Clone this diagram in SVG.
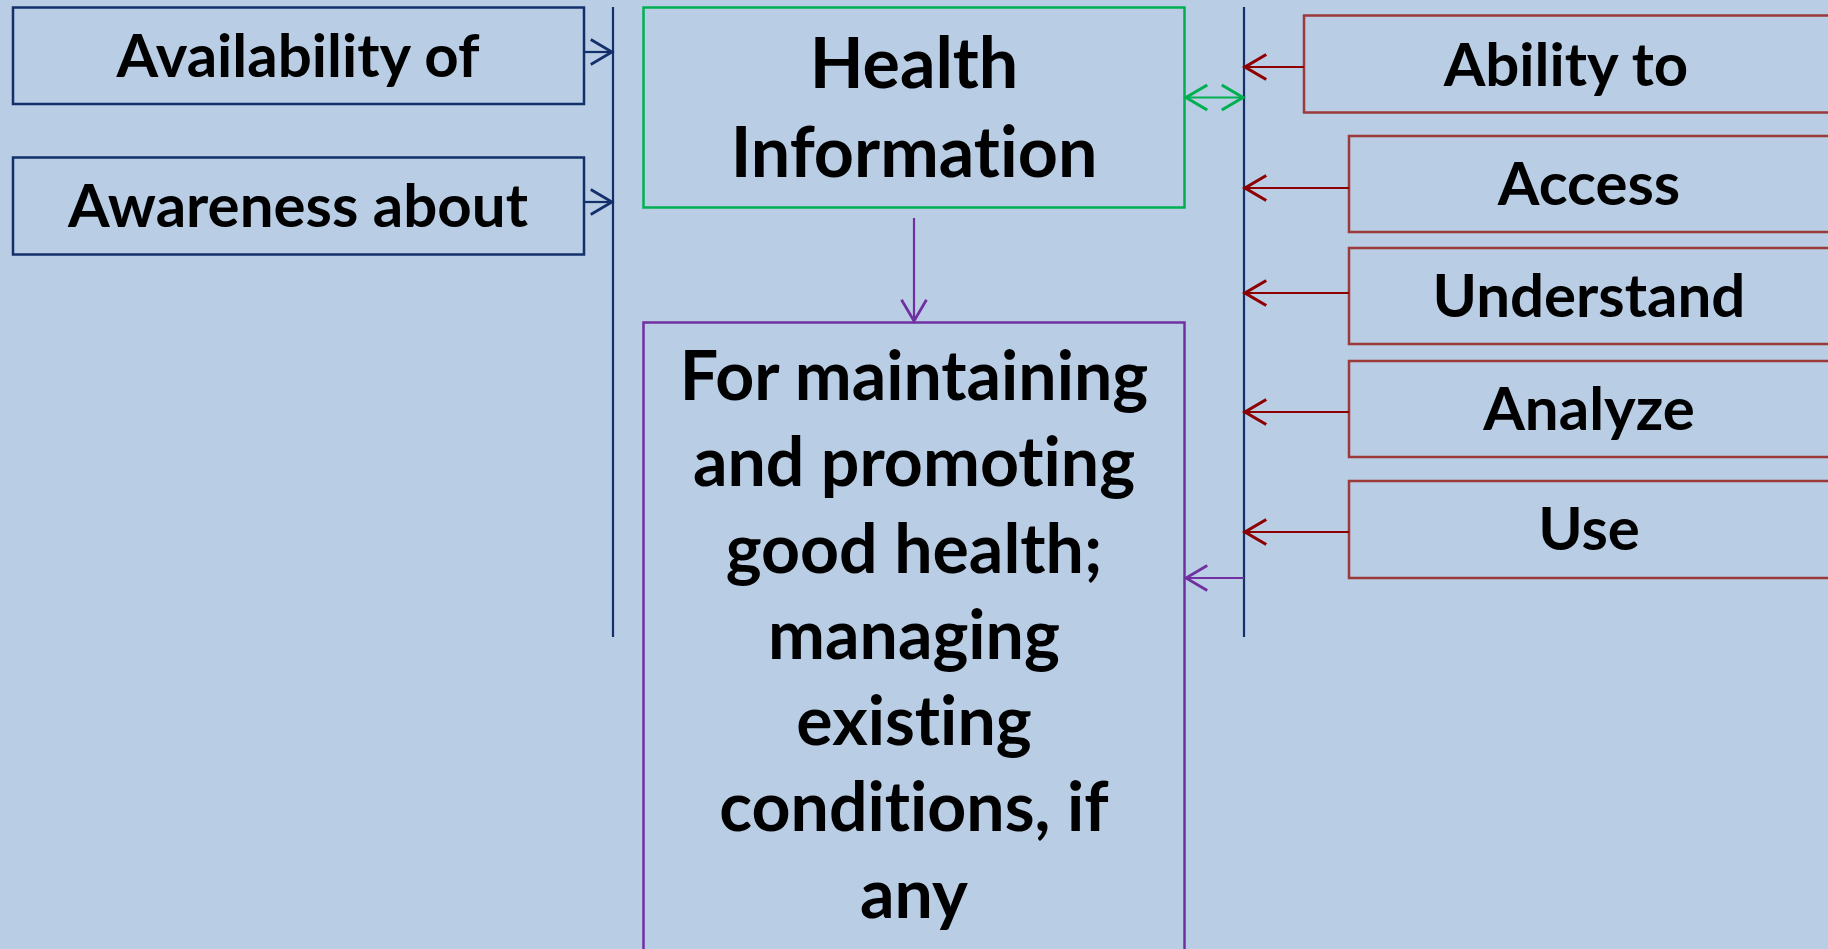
<svg xmlns="http://www.w3.org/2000/svg" width="1828" height="949" viewBox="0 0 1828 949">
<defs>
<style>
.bg{fill:#B9CDE5}
.box{fill:none;stroke-width:2.5}
.navy{stroke:#13306B}
.green{stroke:#00B050}
.purple{stroke:#7030A0}
.red{stroke:#9B3A38}
.t{font-family:Lato,"Open Sans","Liberation Sans",sans-serif;font-weight:bold;fill:#000;text-anchor:middle;font-variant-ligatures:none;font-feature-settings:"liga" 0,"clig" 0}
.s{font-size:60px}
.l{font-size:70px}
.m{font-size:68px}
.c{fill:none;stroke-width:2.2}
</style>
<marker id="aN" markerUnits="userSpaceOnUse" markerWidth="30" markerHeight="30" refX="0" refY="0" viewBox="-20 -12 22 24" orient="auto-start-reverse" overflow="visible"><path d="M-17,-10 L0,0 L-17,10" fill="none" stroke="#13306B" stroke-width="2.2"/></marker>
<marker id="aG" markerUnits="userSpaceOnUse" markerWidth="30" markerHeight="30" refX="0" refY="0" viewBox="-20 -12 22 24" orient="auto-start-reverse" overflow="visible"><path d="M-17,-10 L0,0 L-17,10" fill="none" stroke="#00B050" stroke-width="2.5"/></marker>
<marker id="aP" markerUnits="userSpaceOnUse" markerWidth="30" markerHeight="30" refX="0" refY="0" viewBox="-20 -12 22 24" orient="auto-start-reverse" overflow="visible"><path d="M-17,-10 L0,0 L-17,10" fill="none" stroke="#7030A0" stroke-width="2.2"/></marker>
<marker id="aR" markerUnits="userSpaceOnUse" markerWidth="30" markerHeight="30" refX="0" refY="0" viewBox="-20 -12 22 24" orient="auto-start-reverse" overflow="visible"><path d="M-17,-10 L0,0 L-17,10" fill="none" stroke="#8E0000" stroke-width="2.5"/></marker>
</defs>
<rect class="bg" x="0" y="0" width="1828" height="949"/>

<g id="availability">
<rect class="box navy" x="13" y="7.5" width="571" height="96.5"/>
<text class="t s" x="298" y="77">Availability of</text>
</g>
<g id="awareness">
<rect class="box navy" x="13" y="157.5" width="571" height="97"/>
<text class="t s" x="298" y="227">Awareness about</text>
</g>
<g id="health-information">
<rect class="box green" x="643.5" y="7.5" width="541" height="200"/>
<text class="t l" x="914" y="87.5">Health</text>
<text class="t l" x="914" y="177">Information</text>
</g>
<g id="outcome">
<rect class="box purple" x="643.5" y="322.5" width="541" height="640"/>
<text class="t m" x="914" y="400">For maintaining</text>
<text class="t m" x="914" y="486">and promoting</text>
<text class="t m" x="914" y="572.5">good health;</text>
<text class="t m" x="914" y="659">managing</text>
<text class="t m" x="914" y="745">existing</text>
<text class="t m" x="914" y="831">conditions, if</text>
<text class="t m" x="914" y="917.5">any</text>
</g>
<g id="ability">
<rect class="box red" x="1304" y="15.5" width="540" height="97"/>
<text class="t s" x="1566" y="86">Ability to</text>
</g>
<g id="access">
<rect class="box red" x="1349" y="136" width="500" height="96"/>
<text class="t s" x="1589" y="205">Access</text>
</g>
<g id="understand">
<rect class="box red" x="1349" y="248" width="500" height="96"/>
<text class="t s" x="1589" y="317">Understand</text>
</g>
<g id="analyze">
<rect class="box red" x="1349" y="361" width="500" height="96"/>
<text class="t s" x="1589" y="430">Analyze</text>
</g>
<g id="use">
<rect class="box red" x="1349" y="481" width="500" height="97"/>
<text class="t s" x="1589" y="550">Use</text>
</g>

<g id="connectors">
<line class="c navy" x1="613" y1="7" x2="613" y2="637"/>
<line class="c navy" x1="1244" y1="7" x2="1244" y2="637"/>
<line class="c navy" x1="584" y1="52" x2="612" y2="52" marker-end="url(#aN)"/>
<line class="c navy" x1="584" y1="202" x2="612" y2="202" marker-end="url(#aN)"/>
<line class="c green" x1="1186" y1="97.5" x2="1243" y2="97.5" marker-start="url(#aG)" marker-end="url(#aG)" stroke-width="2.5"/>
<line class="c purple" x1="914" y1="218" x2="914" y2="321" marker-end="url(#aP)"/>
<line class="c purple" x1="1244" y1="578" x2="1186" y2="578" marker-end="url(#aP)"/>
<line class="c" stroke="#8E0000" x1="1304" y1="67" x2="1245" y2="67" marker-end="url(#aR)"/>
<line class="c" stroke="#8E0000" x1="1349" y1="188" x2="1245" y2="188" marker-end="url(#aR)"/>
<line class="c" stroke="#8E0000" x1="1349" y1="293" x2="1245" y2="293" marker-end="url(#aR)"/>
<line class="c" stroke="#8E0000" x1="1349" y1="412" x2="1245" y2="412" marker-end="url(#aR)"/>
<line class="c" stroke="#8E0000" x1="1349" y1="532" x2="1245" y2="532" marker-end="url(#aR)"/>
</g>
</svg>
